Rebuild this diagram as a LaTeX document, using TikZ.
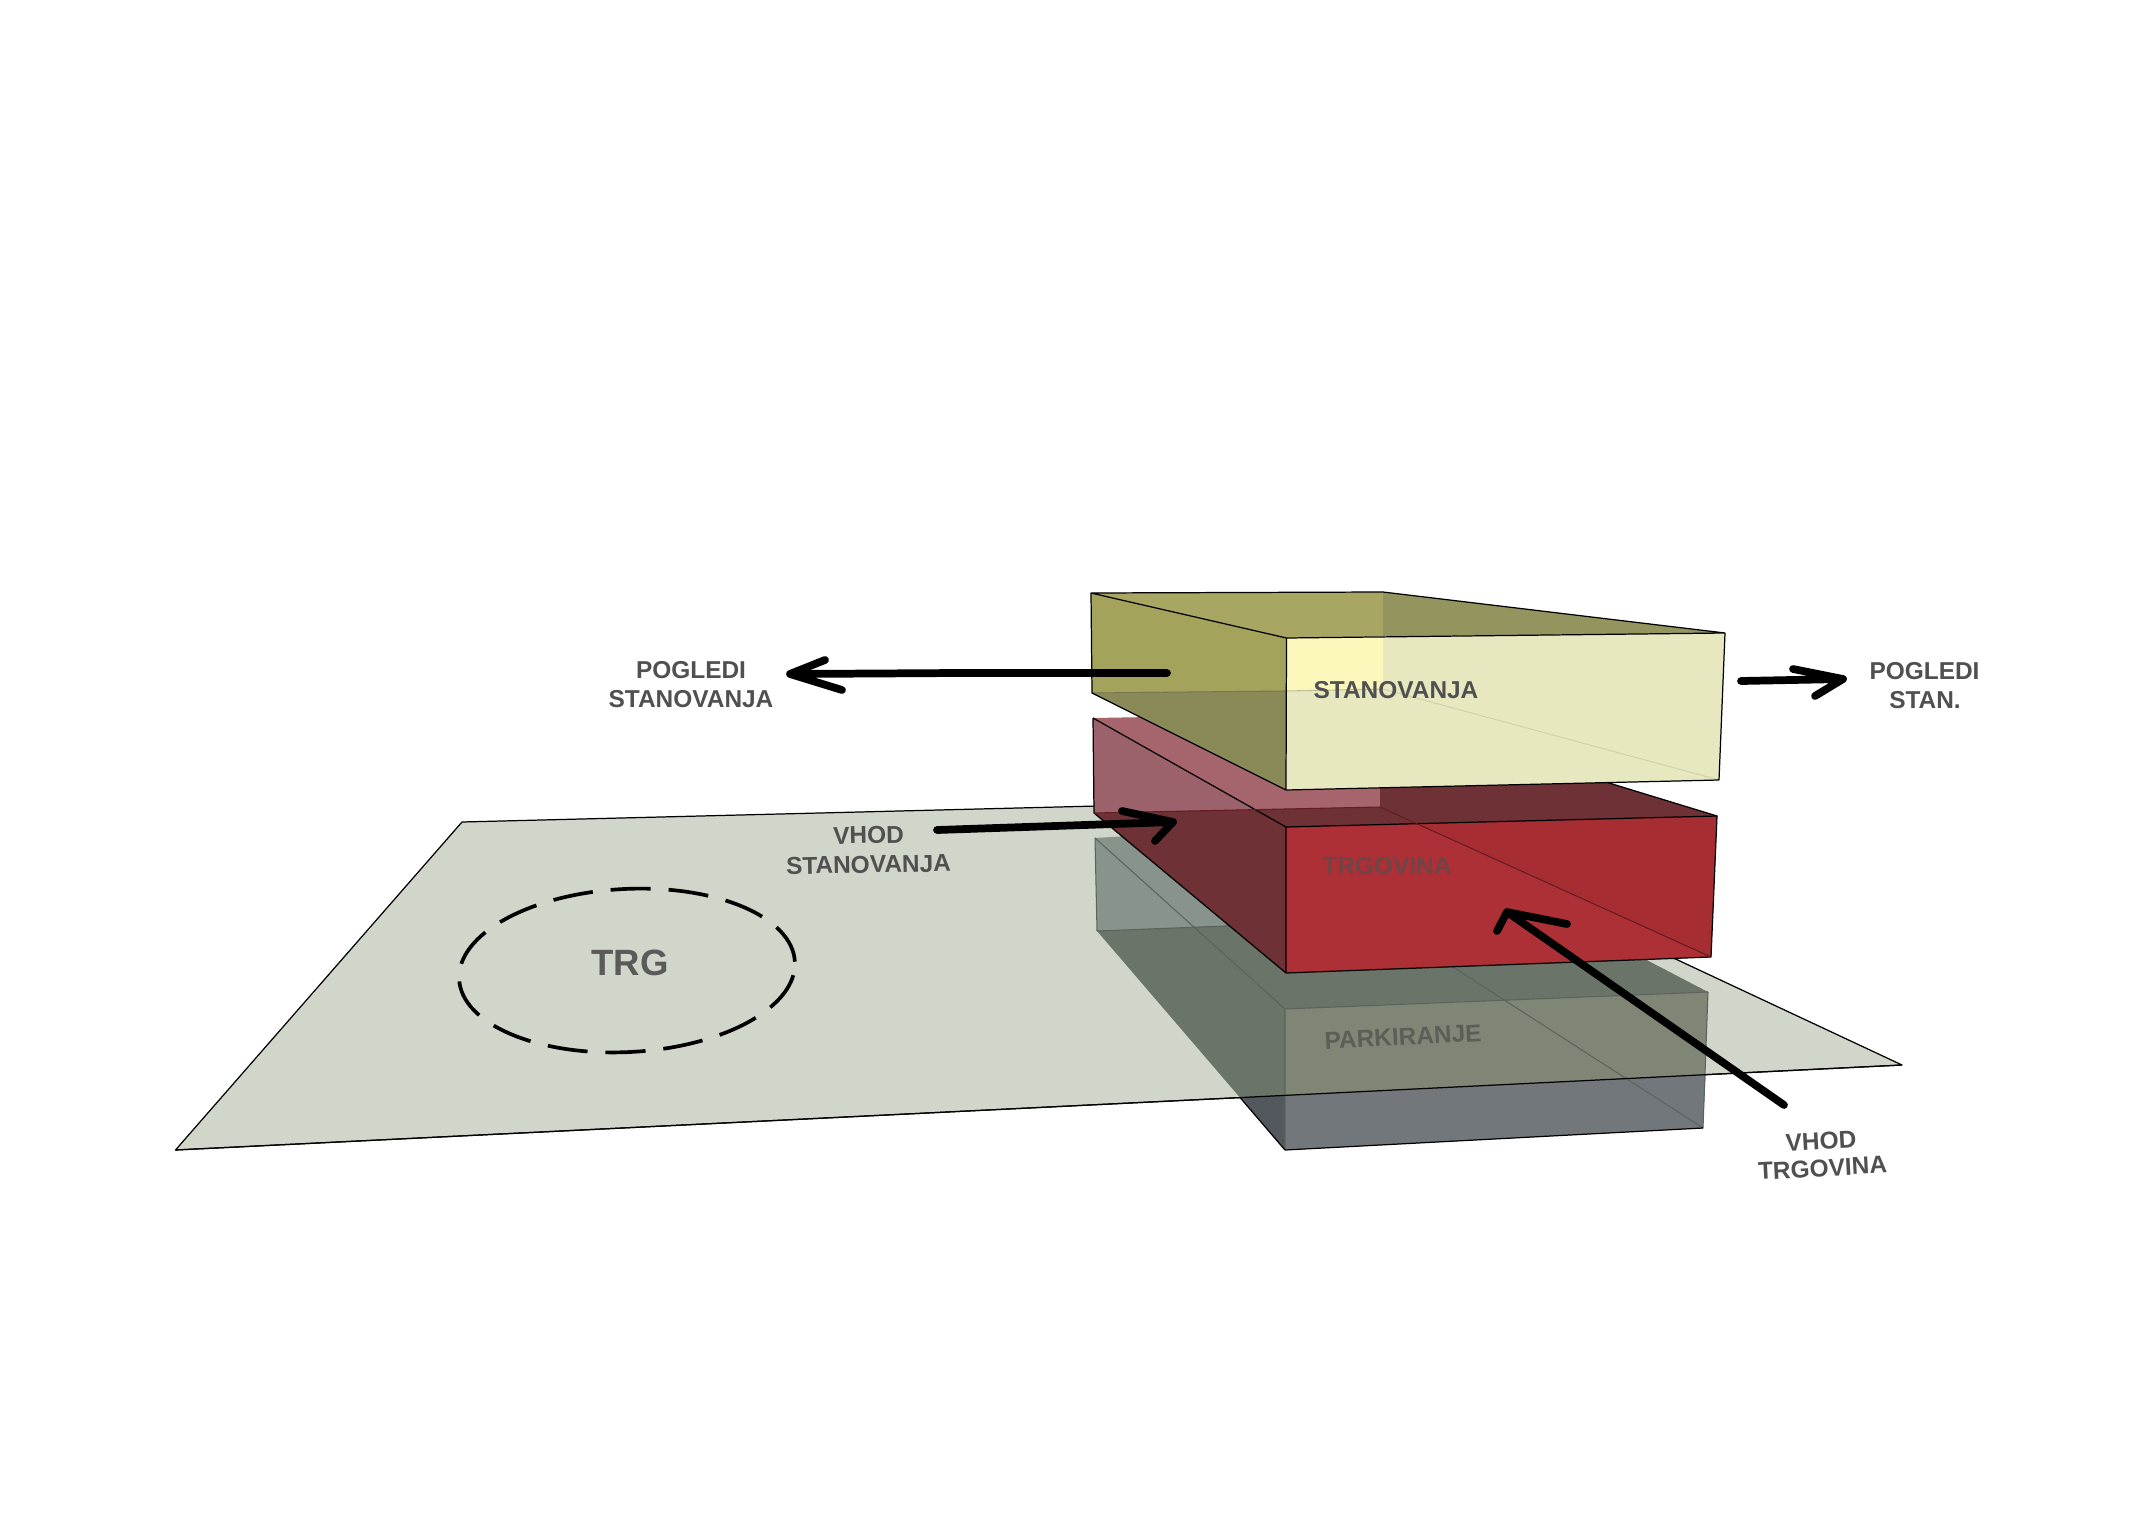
\documentclass[tikz,border=0pt]{standalone}
\usepackage{fontspec}
\usetikzlibrary{shapes.geometric}
\setmainfont{Liberation Sans}
\definecolor{plane}{HTML}{D0D6CA}
\definecolor{txt}{HTML}{505050}
\tikzset{
  edge/.style={draw=black,line width=0.35pt,line join=round},
  faint/.style={line width=0.3pt},
  fat/.style={draw=black,line width=2.2pt,line cap=round,line join=round},
  lab/.style={text=txt,font=\fontsize{6.95}{8}\selectfont\bfseries,inner sep=0pt,align=center},
}
\begin{document}
\begin{tikzpicture}[x=0.01cm,y=-0.01cm]
\useasboundingbox (0,0) rectangle (2151,1521);
\fill[white] (0,0) rectangle (2151,1521);
% square plane
\coordinate (PTL) at (462,822); \coordinate (PTR) at (1336,800);
\coordinate (PBR) at (1902,1065); \coordinate (PBL) at (175.5,1150);
\filldraw[fill=plane,edge] (PTL)--(PTR)--(PBR)--(PBL)--cycle;
% parking box
\coordinate (GA) at (1095,838); \coordinate (GB) at (1380,821);
\coordinate (GC) at (1708,992); \coordinate (GD) at (1285,1009);
\coordinate (GAb) at (1097,931); \coordinate (GBb) at (1380,920);
\coordinate (GCb) at (1703,1128); \coordinate (GDb) at (1285,1150);
\fill[color={rgb,255:red,135;green,147;blue,139}] (GA)--(GB)--(GBb)--(GAb)--cycle;
\fill[color={rgb,255:red,106;green,116;blue,104}] (GAb)--(GBb)--(GB)--(GC)--(GD)--(GDb)--cycle;
\fill[color={rgb,255:red,127;green,134;blue,118}] (GD)--(GC)--(GCb)--(GDb)--cycle;
\coordinate (Pa) at (1285,1095); \coordinate (Pb) at (1705.5,1075);
\coordinate (Pc) at (1240,1097.5);
\fill[color={rgb,255:red,114;green,119;blue,124}] (Pa)--(Pb)--(GCb)--(GDb)--cycle;
\fill[color={rgb,255:red,83;green,88;blue,95}] (Pc)--(Pa)--(GDb)--cycle;
\draw[faint,color={rgb,255:red,90;green,100;blue,93}] (GA)--(GD) (GD)--(GC) (GAb)--(GBb)--(GCb) (GD)--(GDb) (GC)--(GCb) (GA)--(GAb);
\draw[edge] (GCb)--(GDb) (Pc)--(GDb);
\draw[edge] (PBL)--(PBR);
\node[lab,text={rgb,255:red,90;green,96;blue,88},rotate=3] (parking) at (1403,1037) {PARKIRANJE};
% shop box
\coordinate (RA) at (1093,718); \coordinate (RB) at (1380,713);
\coordinate (RC) at (1717,816); \coordinate (RD) at (1286,827);
\coordinate (RAb) at (1094,813); \coordinate (RBb) at (1380,807);
\coordinate (RCb) at (1711,957); \coordinate (RDb) at (1286,973);
\coordinate (Rx) at (1256,810);
\coordinate (Ry) at (1422,825);
\fill[color={rgb,255:red,155;green,98;blue,107}] (RA)--(Rx)--(RAb)--cycle;
\fill[color={rgb,255:red,166;green,101;blue,109}] (RA)--(RB)--(RBb)--(Rx)--cycle;
\fill[color={rgb,255:red,110;green,49;blue,54}] (RAb)--(RBb)--(RB)--(RC)--(RD)--(RDb)--cycle;
\fill[color={rgb,255:red,172;green,48;blue,54}] (RD)--(RC)--(RCb)--(RDb)--cycle;
\fill[color={rgb,255:red,166;green,45;blue,50}] (Ry)--(RC)--(RCb)--cycle;
\draw[edge] (RA)--(RD)--(RC)--(RCb)--(RDb)--(RD) (RDb)--(RAb)--(RA);
\draw[faint,color={rgb,255:red,100;green,28;blue,32}] (RAb)--(RBb)--(RCb);
\draw[edge] (RB)--(RC);
\node[lab,text={rgb,255:red,110;green,70;blue,72}] (shop) at (1387,866) {TRGOVINA};
% housing box
\coordinate (YA) at (1091,593); \coordinate (YB) at (1383,592);
\coordinate (YC) at (1725,633); \coordinate (YD) at (1286.5,638);
\coordinate (YAb) at (1092,693); \coordinate (YBb) at (1383,689);
\coordinate (YCb) at (1719,780); \coordinate (YDb) at (1286,790);
\coordinate (Yt) at (1383,636.5); \coordinate (Yb) at (1286,691);
\fill[color={rgb,255:red,163;green,163;blue,91}] (YA)--(YD)--(Yb)--(YAb)--cycle;
\fill[color={rgb,255:red,138;green,138;blue,89}] (YAb)--(Yb)--(YDb)--cycle;
\fill[color={rgb,255:red,167;green,167;blue,99}] (YA)--(YB)--(Yt)--(YD)--cycle;
\fill[color={rgb,255:red,148;green,148;blue,95}] (YB)--(YC)--(Yt)--cycle;
\fill[color={rgb,255:red,231;green,231;blue,192}] (YD)--(YC)--(YCb)--(YDb)--cycle;
\fill[color={rgb,255:red,252;green,248;blue,188}] (YD)--(Yt)--(YBb)--(Yb)--cycle;
\draw[faint,color={rgb,255:red,210;green,210;blue,172}] (YBb)--(YCb);
\draw[faint,color={rgb,255:red,190;green,190;blue,150}] (Yb)--(YBb);
\draw[faint,color={rgb,255:red,120;green,120;blue,80}] (YAb)--(Yb);
\draw[edge] (YA)--(YB)--(YC)--(YD)--(YA)--(YAb)--(YDb)--(YCb)--(YC) (YD)--(YDb);
\node[lab] (housing) at (1396,690.5) {STANOVANJA};
% labels
\node[lab] (l1a) at (691,670) {POGLEDI};
\node[lab] (l1b) at (691,699) {STANOVANJA};
\node[lab,rotate=1] (l2a) at (868.5,835) {VHOD};
\node[lab,rotate=1] (l2b) at (868.5,864.5) {STANOVANJA};
\node[lab] (l3a) at (1924.5,671) {POGLEDI};
\node[lab] (l3b) at (1925,700) {STAN.};
\node[lab,rotate=3] (l4a) at (1821,1141) {VHOD};
\node[lab,rotate=3] (l4b) at (1822.5,1168) {TRGOVINA};
% square circle
\node[draw=black,line width=1.05pt,dash pattern=on 11.4pt off 5.1pt,ellipse,rotate=3,minimum width=3.36cm,minimum height=1.63cm,inner sep=0pt] (ring) at (627,970.5) {};
\node[lab,font=\fontsize{10.4}{12}\selectfont\bfseries,text={rgb,255:red,90;green,90;blue,90}] (trg) at (630,963) {TRG};
% arrows
\coordinate (a1s) at (1167,673); \coordinate (a1m) at (958,673); \coordinate (a1t) at (790,674);
\coordinate (a1p) at (825,660); \coordinate (a1q) at (842,690);
\draw[fat] (a1s)--(a1m)--(a1t) (a1p)--(a1t)--(a1q);
\coordinate (a2s) at (1741,681); \coordinate (a2t) at (1843,679);
\coordinate (a2p) at (1793,669); \coordinate (a2q) at (1815,696);
\draw[fat] (a2s)--(a2t) (a2p)--(a2t)--(a2q);
\coordinate (a3s) at (937,830); \coordinate (a3t) at (1173,822);
\coordinate (a3p) at (1122,811); \coordinate (a3q) at (1155,841);
\draw[fat] (a3s)--(a3t) (a3p)--(a3t)--(a3q);
\coordinate (a4s) at (1784,1105); \coordinate (a4t) at (1507,912);
\coordinate (a4p) at (1567,924); \coordinate (a4q) at (1497,931);
\draw[fat] (a4s)--(a4t) (a4p)--(a4t)--(a4q);
\end{tikzpicture}
\end{document}
